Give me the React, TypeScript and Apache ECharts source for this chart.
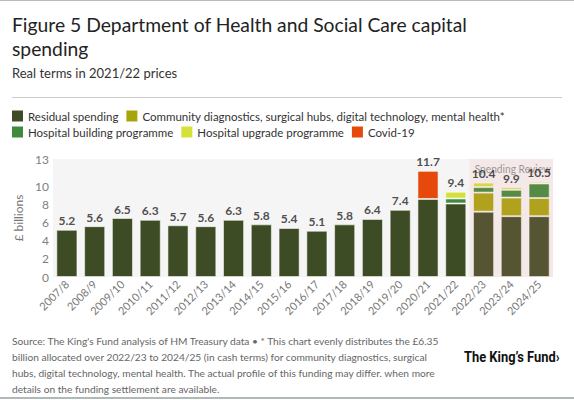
import React, { useEffect, useRef } from "react";
import * as echarts from "echarts";

const categories = [
  "2007/8", "2008/9", "2009/10", "2010/11", "2011/12", "2012/13", "2013/14", "2014/15", "2015/16",
  "2016/17", "2017/18", "2018/19", "2019/20", "2020/21", "2021/22", "2022/23", "2023/24", "2024/25",
];
const residual = [5.2, 5.6, 6.5, 6.3, 5.7, 5.6, 6.3, 5.8, 5.4, 5.1, 5.8, 6.4, 7.4, 8.6, 8.1, 7.2, 6.7, 6.7];
const community = [null, null, null, null, null, null, null, null, null, null, null, null, null, null, null, 2.1, 2.05, 2.0];
const hospitalBuilding = [null, null, null, null, null, null, null, null, null, null, null, null, null, null, 0.55, 0.6, 0.85, 1.6];
const hospitalUpgrade = [null, null, null, null, null, null, null, null, null, null, null, null, null, null, 0.75, 0.5, 0.3, 0.2];
const covid = [null, null, null, null, null, null, null, null, null, null, null, null, null, 3.1, null, null, null, null];
const yTicks = [0, 2, 4, 6, 8, 10, 13];
const spendingReviewStart = "2022/23";
const spendingReviewEnd = "2024/25";

const seriesNames = [
  "Residual spending",
  "Community diagnostics, surgical hubs, digital technology, mental health*",
  "Hospital building programme",
  "Hospital upgrade programme",
  "Covid-19",
];
const colors = ["#3e4c25", "#a7a50c", "#3f8a3b", "#d6e03b", "#e5490c"];

const footerLines = [
  "Source: The King's Fund analysis of HM Treasury data • * This chart evenly distributes the £6.35",
  "billion allocated over 2022/23 to 2024/25 (in cash terms) for community diagnostics, surgical",
  "hubs, digital technology, mental health. The actual profile of this funding may differ. when more",
  "details on the funding settlement are available.",
];

const FONT = "Lato, 'Noto Sans', sans-serif";

export default function App() {
  const ref = useRef<HTMLDivElement>(null);
  useEffect(() => {
    if (!ref.current) return;
    const chart = echarts.init(ref.current, null, { renderer: "svg" });
    const values = [residual, community, hospitalBuilding, hospitalUpgrade, covid];
    const totals = categories.map((_, i) =>
      Number(values.reduce((s, arr) => s + (arr[i] || 0), 0).toFixed(1))
    );
    const legendCommon = {
      icon: "rect",
      itemWidth: 11,
      itemHeight: 11,
      itemGap: 8,
      padding: 0,
      left: 12,
      selectedMode: false,
      itemStyle: { borderWidth: 0 },
      textStyle: { fontSize: 11.5, color: "#333", fontFamily: FONT },
    };
    const baseGraphic: any[] = [
      { id: "topline", type: "line", shape: { x1: 0, y1: 0.5, x2: 574, y2: 0.5 }, style: { stroke: "#b8bcbc", lineWidth: 1 } },
      { id: "sep", type: "line", shape: { x1: 12, y1: 97.5, x2: 562, y2: 97.5 }, style: { stroke: "#c8cccc", lineWidth: 1 } },
      { id: "bottomline", type: "line", shape: { x1: 0, y1: 398, x2: 574, y2: 398 }, style: { stroke: "#b0b8b8", lineWidth: 2 } },
      {
        id: "footer",
        type: "text",
        left: 12,
        top: 333,
        style: {
          text: footerLines.join("\n"),
          fontSize: 10.2,
          lineHeight: 16,
          fill: "#666",
          fontFamily: FONT,
        },
      },
      {
        id: "logo",
        type: "text",
        x: 464,
        y: 357,
        scaleX: 0.86,
        style: {
          text: "The King’s Fund›",
          x: 0,
          y: 0,
          fontSize: 15,
          fontWeight: "bold",
          fill: "#111",
          verticalAlign: "middle",
          fontFamily: "Roboto, sans-serif",
        },
      },
    ];
    const option: any = {
      animation: false,
      textStyle: { fontFamily: FONT },
      title: {
        text: "Figure 5 Department of Health and Social Care capital\nspending",
        subtext: "Real terms in 2021/22 prices",
        left: 12,
        top: 12,
        padding: 0,
        itemGap: 4,
        textStyle: { fontSize: 19.3, fontWeight: "normal", color: "#222", lineHeight: 24, fontFamily: FONT },
        subtextStyle: { fontSize: 13, color: "#333", lineHeight: 18, fontFamily: FONT },
      },
      legend: [
        { ...legendCommon, top: 110, data: seriesNames.slice(0, 2) },
        { ...legendCommon, top: 126, data: seriesNames.slice(2) },
      ],
      grid: {
        left: 53,
        right: 21,
        top: 159,
        bottom: 123,
        show: true,
        backgroundColor: "#f5f5f5",
        borderWidth: 0,
      },
      xAxis: {
        type: "category",
        data: categories,
        axisLine: { show: false },
        axisTick: { show: false },
        axisLabel: { rotate: 45, fontSize: 11, color: "#777", margin: 5, interval: 0 },
      },
      yAxis: {
        type: "value",
        min: 0,
        max: 13,
        name: "£ billions",
        nameLocation: "middle",
        nameRotate: 90,
        nameGap: 18,
        nameTextStyle: { fontSize: 12, color: "#777" },
        splitLine: { show: false },
        axisLine: { show: false },
        axisTick: { show: false },
        axisLabel: { fontSize: 12, color: "#808080", margin: 4, customValues: yTicks },
      },
      series: [
        ...seriesNames.map((name, k) => ({
          name,
          type: "bar",
          stack: "total",
          data: values[k],
          barCategoryGap: "24%",
          itemStyle: { color: colors[k], borderColor: "rgba(255,255,255,0.55)", borderWidth: 1 },
        })),
        {
          name: "Total",
          type: "scatter",
          data: totals,
          symbolSize: 0,
          z: 5,
          label: {
            show: true,
            position: "top",
            distance: 3,
            fontSize: 12,
            fontWeight: "bold",
            color: "#222",
            formatter: (p: any) => p.value.toFixed(1),
          },
        },
      ],
      graphic: baseGraphic,
    };
    chart.setOption(option);

    const px = (c: string) => chart.convertToPixel({ xAxisIndex: 0 }, c) as number;
    const first = px(categories[0]);
    const last = px(categories[categories.length - 1]);
    const bw = (last - first) / (categories.length - 1);
    const left = px(spendingReviewStart) - bw / 2;
    const right = px(spendingReviewEnd) + bw / 2;
    const top = chart.convertToPixel({ yAxisIndex: 0 }, 13) as number;
    const bottom = chart.convertToPixel({ yAxisIndex: 0 }, 0) as number;
    const textScale = 0.85;
    chart.setOption({
      graphic: [
        ...baseGraphic,
        {
          id: "srArea",
          type: "rect",
          z: 3,
          silent: true,
          shape: { x: left, y: top, width: right - left, height: bottom - top },
          style: { fill: "rgba(240,150,150,0.13)" },
        },
        {
          id: "srText",
          type: "text",
          z: 4,
          silent: true,
          x: left + 5,
          y: top + 9,
          scaleX: textScale,
          style: {
            text: "Spending Review period",
            x: 0,
            y: 0,
            verticalAlign: "middle",
            fontSize: 12,
            fill: "rgba(120,120,120,0.75)",
            fontFamily: FONT,
            width: (right - left - 5) / textScale,
            overflow: "truncate",
            ellipsis: "",
          },
        },
      ],
    });
    return () => chart.dispose();
  }, []);
  return (
    <div
      ref={ref}
      style={{ position: "fixed", left: 0, top: 0, width: 574, height: 400, background: "#fff" }}
    />
  );
}
